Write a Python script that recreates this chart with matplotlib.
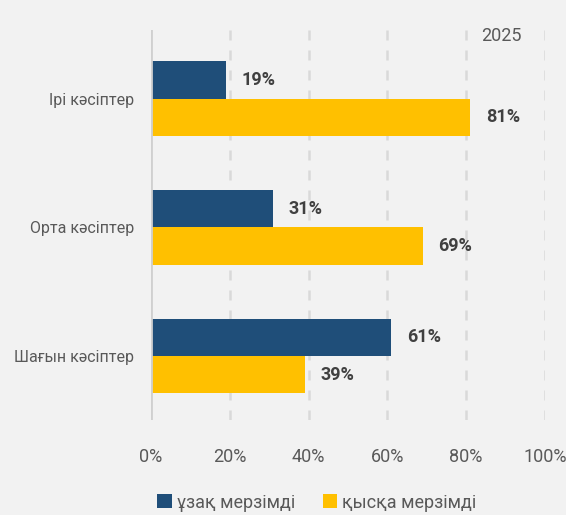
import matplotlib.pyplot as plt
import numpy as np

# data
categories = ["Ірі кәсіптер", "Орта кәсіптер", "Шағын кәсіптер"]
long_term = [19, 31, 61]
short_term = [81, 69, 39]
series_names = ["ұзақ мерзімді", "қысқа мерзімді"]
x_ticks = [0, 20, 40, 60, 80, 100]

plt.rcParams['font.family'] = ['Liberation Sans Narrow', 'Roboto', 'DejaVu Sans']

bg = "#f2f2f2"
navy = "#1f4e79"
gold = "#ffc000"
txt = "#595959"

fig = plt.figure(figsize=(5.66, 5.15), dpi=100, facecolor=bg)
ax = fig.add_axes([0.2668, 0.184, 0.696, 0.757])
ax.set_facecolor(bg)

y = np.arange(len(categories))
h = 0.29

ax.barh(y - h / 2, long_term, height=h, color=navy, label=series_names[0], zorder=3)
ax.barh(y + h / 2, short_term, height=h, color=gold, label=series_names[1], zorder=3)

for i in range(len(categories)):
    ax.text(long_term[i] + 4, y[i] - h / 2, f"{long_term[i]}%", va="center", ha="left",
            fontsize=13, fontweight="bold", color="#404040")
    ax.text(short_term[i] + 4, y[i] + h / 2, f"{short_term[i]}%", va="center", ha="left",
            fontsize=13, fontweight="bold", color="#404040")

ax.set_xlim(0, 100)
ax.set_ylim(2.5, -0.53)
ax.set_xticks(x_ticks)
ax.set_xticklabels([f"{t}%" for t in x_ticks])
ax.set_yticks(y)
ax.set_yticklabels(categories)
ax.tick_params(axis="both", length=0, labelsize=13, colors=txt)
ax.tick_params(axis="x", pad=20)
ax.tick_params(axis="y", pad=12, labelsize=11.5)

for t in x_ticks[1:]:
    ax.axvline(t, color="#d9d9d9", linestyle=(0, (4, 4)), linewidth=1.8, zorder=1)
ax.axvline(0, color="#d0d0d0", linewidth=2, zorder=4)

for s in ax.spines.values():
    s.set_visible(False)

ax.text(89, -0.49, "2025", ha="center", va="center", fontsize=13, color=txt)

leg = fig.legend(loc="lower center", bbox_to_anchor=(0.56, -0.025), ncol=2, frameon=False,
                 fontsize=13, handlelength=0.8, handleheight=0.8, handletextpad=0.3,
                 columnspacing=1.5)
for t in leg.get_texts():
    t.set_color(txt)

fig.savefig("out.png", dpi=100, facecolor=bg)
